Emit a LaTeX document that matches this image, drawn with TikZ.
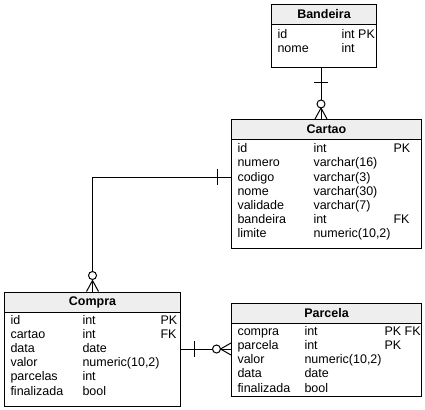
\documentclass[tikz,border=0pt]{standalone}
\usepackage{fontspec}
\setmainfont{Liberation Sans}
\usetikzlibrary{calc}
\definecolor{cinza}{HTML}{EEEEEE}
\tikzset{
    tabela/.style = {
        draw,
        anchor    = north west,
        inner sep = 0pt,
    },
    cabecalho/.style = {
        draw,
        fill           = cinza,
        anchor         = north west,
        minimum height = 20pt,
        font           = \fontsize{12.5}{14}\selectfont\bfseries,
    },
    campo/.style = {anchor = base west, inner sep = 0pt},
}

\begin{document}
\begin{tikzpicture}[x=1pt, y=-1pt, line width=1pt, font=\fontsize{12.5}{14}\selectfont]
    \useasboundingbox (0,0) rectangle (425,409);

    \node (bandeira) [tabela, minimum width=105pt, minimum height=63pt] at (271,4) {};
    \node (bandeira-h) [cabecalho, minimum width=105pt] at (bandeira.north west) {Bandeira};
    \foreach \nome/\tipo [count=\i] in {id/int PK, nome/int} {
        \node (bandeira-n\i) [campo] at (277, 24.2+14.2*\i) {\nome};
        \node (bandeira-t\i) [campo] at (341, 24.2+14.2*\i) {\tipo};
    }

    \node (cartao) [tabela, minimum width=190pt, minimum height=129pt] at (231,119) {};
    \node (cartao-h) [cabecalho, minimum width=190pt] at (cartao.north west) {Cartao};
    \foreach \nome/\tipo [count=\i] in {id/int, numero/varchar(16), codigo/varchar(3), nome/varchar(30), validade/varchar(7), bandeira/int, limite/{numeric(10,2)}} {
        \node (cartao-n\i) [campo] at (237, 138.5+14.2*\i) {\nome};
        \node (cartao-t\i) [campo] at (313, 138.5+14.2*\i) {\tipo};
    }
    \node (cartao-pk) [campo] at (393, 152.7) {PK};
    \node (cartao-fk) [campo] at (393, 223.7) {FK};

    \node (compra) [tabela, minimum width=176pt, minimum height=114pt] at (4,291.5) {};
    \node (compra-h) [cabecalho, minimum width=176pt] at (compra.north west) {Compra};
    \foreach \nome/\tipo [count=\i] in {id/int, cartao/int, data/date, valor/{numeric(10,2)}, parcelas/int, finalizada/bool} {
        \node (compra-n\i) [campo] at (10, 309.8+14.2*\i) {\nome};
        \node (compra-t\i) [campo] at (82, 309.8+14.2*\i) {\tipo};
    }
    \node (compra-pk) [campo] at (160, 324) {PK};
    \node (compra-fk) [campo] at (160, 338.2) {FK};

    \node (parcela) [tabela, minimum width=190pt, minimum height=93pt] at (231,303) {};
    \node (parcela-h) [cabecalho, minimum width=190pt] at (parcela.north west) {Parcela};
    \foreach \nome/\tipo [count=\i] in {compra/int, parcela/int, valor/{numeric(10,2)}, data/date, finalizada/bool} {
        \node (parcela-n\i) [campo] at (237, 321.1+14.2*\i) {\nome};
        \node (parcela-t\i) [campo] at (304, 321.1+14.2*\i) {\tipo};
    }
    \node (parcela-pk) [campo] at (384, 335.3) {PK FK};
    \node (parcela-k2) [campo] at (384, 349.5) {PK};

    % Bandeira 1 -- n Cartao
    \coordinate (bs) at ($(bandeira.south)+(-3,0)$);
    \coordinate (bc) at (bs |- cartao.north);
    \draw (bs) -- (bc);
    \draw ($(bs)+(-7,15)$) -- +(14,0);
    \draw [fill=white] ($(bc)+(0,-15)$) circle [radius=4pt];
    \draw ($(bc)+(-6,0)$) -- +(6,-11) -- +(12,0);

    % Cartao 1 -- n Compra
    \coordinate (cc) at ($(cartao.north west)+(0,58)$);
    \draw (cc) -| (compra.north);
    \draw ($(cc)+(-14,-8)$) -- +(0,16);
    \draw [fill=white] ($(compra.north)+(0,-16)$) circle [radius=4pt];
    \draw ($(compra.north)+(-6,0)$) -- +(6,-11) -- +(12,0);

    % Compra 1 -- n Parcela
    \coordinate (cp) at (compra.east -| parcela.west);
    \draw (compra.east) -- (cp);
    \draw ($(compra.east)+(13,-8)$) -- +(0,16);
    \draw [fill=white] ($(cp)+(-14.5,0)$) circle [radius=4pt];
    \draw ($(cp)+(0,-6)$) -- +(-10.5,6) -- +(0,12);
\end{tikzpicture}
\end{document}
